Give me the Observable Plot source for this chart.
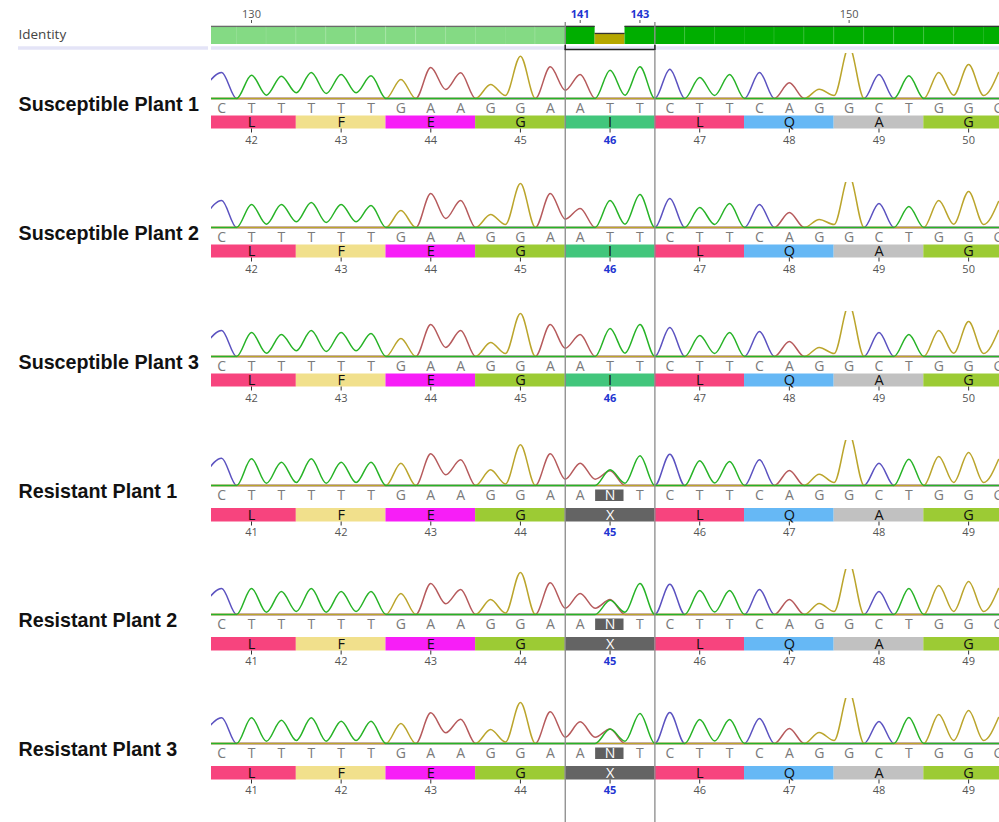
<!DOCTYPE html>
<html><head><meta charset="utf-8">
<script src="https://cdn.jsdelivr.net/npm/d3@7"></script>
<script src="https://cdn.jsdelivr.net/npm/@observablehq/plot@0.6"></script>
<style>
html,body{margin:0;padding:0;background:#fff;overflow:hidden;width:999px;height:822px}
#chart svg{display:block}
</style></head>
<body><div id="chart"></div>
<script>
// ---------------- data ----------------
const positions = [129,130,131,132,133,134,135,136,137,138,139,140,141,142,143,144,145,146,147,148,149,150,151,152,153,154,155];
const sampleNames = ["Susceptible Plant 1","Susceptible Plant 2","Susceptible Plant 3","Resistant Plant 1","Resistant Plant 2","Resistant Plant 3"];
const susceptibleBases = ["C","T","T","T","T","T","G","A","A","G","G","A","A","T","T","C","T","T","C","A","G","G","C","T","G","G","G"];
const resistantBases   = ["C","T","T","T","T","T","G","A","A","G","G","A","A","N","T","C","T","T","C","A","G","G","C","T","G","G","G"];

// peak height of the called base at each position (signal units)
const s1Peaks = [26,23.3,22.3,26,24,22.7,19,31,25.7,14,42.3,31.7,24,28.3,31.7,29.3,21,24,26,15.7,9.3,52,24,22.7,26,34,26];
const s2Peaks = [27,23,23,25,23,22,17,34,27,13,44,34,19,27,33,29,20,24,23,15,8,52,24,21,27,36,26];
const s3Peaks = [26,24,22,26,24,23,18,32,26,14,43,32,22,28,32,29,21,24,25,15,9,52,24,22,26,35,26];
const r1Peaks = [27.3,26.7,23.3,26.7,23.3,23.3,22.3,31.7,25.7,15.7,40.7,31.7,22.3,null,29.7,31.3,24.7,24,25.7,15,11.3,52,22.3,26.3,29,33,26];
const r2Peaks = [26,26,23,26,23,23,21,31,25,15,42,31.7,21,null,31,30.3,24,24,25,15,11,52,23,26,29,33,26];
const r3Peaks = [25.7,25.7,23.3,25.7,22.3,22.3,20,30.7,24.3,14,41,31.7,21.7,null,30,31,24,24,25,15,11,52,22,26,29,33,26];

// double peaks under the ambiguous call
const secondaryPeaks = [
  {sample:"Resistant Plant 1", pos:142, base:"T", h:15.7},
  {sample:"Resistant Plant 1", pos:142, base:"A", h:14.7},
  {sample:"Resistant Plant 2", pos:142, base:"T", h:14.3},
  {sample:"Resistant Plant 2", pos:142, base:"A", h:15},
  {sample:"Resistant Plant 3", pos:142, base:"T", h:14.5},
  {sample:"Resistant Plant 3", pos:142, base:"A", h:14.5}
];
// trough height between two neighbouring peaks of the same dye
const valleysS = [[130.5,3.3],[131.5,5.7],[132.5,5],[133.5,5.7],[136.5,9],[138.5,3],[140.5,8.3],[142.5,3.3],[145.5,3],[149.5,3],[153.5,3.3],[154.5,3]];
const valleysR = [[130.5,2.3],[131.5,3],[132.5,2.3],[133.5,3],[136.5,10.7],[138.5,1.5],[140.5,6.3],[141.5,6.3],[142.5,2.3],[145.5,2.5],[149.5,3],[153.5,3],[154.5,3]];
const leftEdgeC = 14;

const codonStarts = [129,132,135,138,141,144,147,150,153];
const aminoS = ["L","F","E","G","I","L","Q","A","G"];
const aminoR = ["L","F","E","G","X","L","Q","A","G"];
const codonNumS = [42,43,44,45,46,47,48,49,50];
const codonNumR = [41,42,43,44,45,46,47,48,49];

const identityPct = [100,100,100,100,100,100,100,100,100,100,100,100,100,61,100,100,100,100,100,100,100,100,100,100,100,100,100];
const rulerTicks = [130,141,143,150];
const rulerHighlight = [141,143];
const selection = [141,143];

// ---------------- styles / layout ----------------
const dyeColor = {C:"#5b52c0", A:"#b65a5c", G:"#bba52c", T:"#27b327"};
const aaColor = {L:"#f7447e", F:"#f1e08c", E:"#f71ef7", G:"#9ccb34", I:"#42c67c", Q:"#66b8f5", A:"#c1c1c1", X:"#646464"};
const X_DOMAIN = [128.661, 155.033];
const laneS = {letter:-10.5, barTop:-17.5, barBottom:-30.5, num:-41.5};
const laneR = {letter:-10.5, barTop:-23, barBottom:-36.5, num:-47, nTop:-4.5, nBottom:-16};
const LABEL_Y = -6;
const blue = "#1f35d1";

// ---------------- derived tables ----------------
const peaksBySample = {
  "Susceptible Plant 1": s1Peaks, "Susceptible Plant 2": s2Peaks, "Susceptible Plant 3": s3Peaks,
  "Resistant Plant 1": r1Peaks, "Resistant Plant 2": r2Peaks, "Resistant Plant 3": r3Peaks
};
const isRes = s => s.startsWith("Resistant");
const dyes = ["C","A","G","T"];
const tracePts = [];
for (const s of sampleNames) {
  const bases = isRes(s) ? resistantBases : susceptibleBases;
  const peaks = peaksBySample[s];
  const vmap = new Map(isRes(s) ? valleysR : valleysS);
  const sec = secondaryPeaks.filter(d => d.sample === s);
  for (const ch of dyes) {
    const hAt = positions.map((p, i) => {
      if (bases[i] === ch) return peaks[i];
      const m = sec.find(d => d.pos === p && d.base === ch);
      return m ? m.h : 0;
    });
    tracePts.push({sample:s, ch, pos:positions[0]-0.5, h: ch === "C" ? leftEdgeC : 0});
    positions.forEach((p, i) => {
      tracePts.push({sample:s, ch, pos:p, h:hAt[i]});
      if (i < positions.length - 1) {
        const both = hAt[i] > 0 && hAt[i+1] > 0;
        tracePts.push({sample:s, ch, pos:p+0.5, h: both ? (vmap.get(p+0.5) ?? 0) : 0});
      }
    });
  }
}
const letters = [];
for (const s of sampleNames) {
  const bases = isRes(s) ? resistantBases : susceptibleBases;
  positions.forEach((p, i) => letters.push({sample:s, pos:p, base:bases[i], lane: isRes(s) ? laneR : laneS}));
}
const nBoxes = letters.filter(d => d.base === "N");
const codons = [];
for (const s of sampleNames) {
  const r = isRes(s);
  codonStarts.forEach((p, i) => codons.push({
    sample:s, start:p, aa:(r ? aminoR : aminoS)[i], num:(r ? codonNumR : codonNumS)[i],
    lane: r ? laneR : laneS, hi: p === selection[0]
  }));
}
const rows = sampleNames.map(s => ({sample:s}));
const selBounds = [selection[0]-0.5, selection[1]+0.5];
const identRows = positions.map((p, i) => ({pos:p, pct:identityPct[i]}));
const identFill = d => d.pct < 100 ? "#b5a700" : (d.pos < selection[0] ? "#84da84" : "#00ae00");

// ---------------- header (identity track) ----------------
const header = Plot.plot({
  width: 999, height: 53, marginLeft: 211, marginRight: 0, marginTop: 25, marginBottom: 9,
  x: {domain: X_DOMAIN, axis: null},
  y: {domain: [0, 105], axis: null},
  color: {type: "identity"},
  marks: [
    Plot.rect(identRows, {x1: d => d.pos-0.5, x2: d => d.pos+0.5, y1: 0, y2: "pct", fill: identFill, clip: true}),
    Plot.ruleX(identRows, {x: d => d.pos+0.5, y1: 0, y2: "pct", stroke: "white", strokeOpacity: 0.07, clip: true}),
    Plot.ruleY(identRows, {x1: d => d.pos-0.5, x2: d => d.pos+0.5, y: "pct", stroke: d => d.pos < selection[0] ? "#6a6a6a" : "#333", strokeWidth: 1.3, clip: true}),
    Plot.ruleY([0], {dy: 3.5, stroke: "#e4e4f7", strokeWidth: 3.5}),
    Plot.ruleY([0], {dy: 3.5, insetLeft: -193, insetRight: 791, stroke: "#e4e4f7", strokeWidth: 3.5}),
    Plot.ruleX(selBounds, {x: d => d, insetTop: -3, insetBottom: -9, stroke: "#8a8a8a", strokeWidth: 1.3}),
    Plot.ruleY([0], {x1: selBounds[0], x2: selBounds[1], dy: 5, stroke: "#222", strokeWidth: 1.6}),
    Plot.ruleX(selBounds, {x: d => d, y1: 0, y2: 0, insetTop: 1, insetBottom: -6, stroke: "#222", strokeWidth: 1.4}),
    Plot.ruleX(rulerTicks, {x: d => d, insetTop: -5, insetBottom: 21, stroke: "#555"}),
    Plot.text(rulerTicks.filter(t => !rulerHighlight.includes(t)), {x: d => d, text: d => String(d), frameAnchor: "top", lineAnchor: "middle", dy: -11, fill: "#555", fontSize: 11, fontFamily: "Open Sans"}),
    Plot.text(rulerHighlight, {x: d => d, text: d => String(d), frameAnchor: "top", lineAnchor: "middle", dy: -11, fill: blue, fontSize: 11, fontWeight: "bold", fontFamily: "Open Sans"}),
    Plot.text(["Identity"], {text: d => d, frameAnchor: "left", dx: -193, textAnchor: "start", fill: "#444", fontSize: 13.5, fontFamily: "Open Sans"})
  ]
});

// ---------------- chromatogram rows ----------------
const main = Plot.plot({
  width: 999, height: 774, marginLeft: 211, marginRight: 0, marginTop: 0, marginBottom: 0,
  x: {domain: X_DOMAIN, axis: null},
  y: {domain: [-84, 45], axis: null},
  fy: {domain: sampleNames, padding: 0, axis: null},
  color: {type: "identity"},
  marks: [
    Plot.line(tracePts, {x: "pos", y: "h", fy: "sample", z: "ch", stroke: d => dyeColor[d.ch], strokeWidth: 1.5, curve: "monotone-x", clip: true}),
    Plot.rect(nBoxes, {x1: d => d.pos-0.5, x2: d => d.pos+0.5, insetLeft: 0.5, insetRight: 1, y1: d => d.lane.nTop, y2: d => d.lane.nBottom, fy: "sample", fill: "#5f5f5f"}),
    Plot.text(letters, {x: "pos", y: d => d.lane.letter, fy: "sample", text: "base", fill: d => d.base === "N" ? "#ffffff" : "#7a7a7a", fontSize: 14, fontFamily: "Open Sans"}),
    Plot.rect(codons, {x1: d => d.start-0.5, x2: d => d.start+2.5, y1: d => d.lane.barTop, y2: d => d.lane.barBottom, fy: "sample", fill: d => aaColor[d.aa], clip: true}),
    Plot.ruleX(codons, {x: d => d.start+1, y1: d => d.lane.barBottom, y2: d => d.lane.barBottom-4, fy: "sample", stroke: "#333"}),
    Plot.text(codons, {x: d => d.start+1, y: d => (d.lane.barTop+d.lane.barBottom)/2, fy: "sample", text: "aa", fill: d => d.aa === "X" ? "#ffffff" : "#111111", fontSize: 14.5, fontFamily: "Open Sans"}),
    Plot.text(codons.filter(d => !d.hi), {x: d => d.start+1, y: d => d.lane.num, fy: "sample", text: d => String(d.num), fill: "#555", fontSize: 11, fontFamily: "Open Sans"}),
    Plot.text(codons.filter(d => d.hi), {x: d => d.start+1, y: d => d.lane.num, fy: "sample", text: d => String(d.num), fill: blue, fontSize: 11, fontWeight: "bold", fontFamily: "Open Sans"}),
    Plot.ruleX(selBounds, {x: d => d, stroke: "#8a8a8a", strokeWidth: 1.3}),
    Plot.text(rows, {fy: "sample", text: "sample", frameAnchor: "left", y: LABEL_Y, dx: -193, textAnchor: "start", fill: "#111", fontSize: 19.7, fontWeight: "bold", fontFamily: "Liberation Sans, Arial, sans-serif"})
  ]
});

const root = document.getElementById("chart");
root.appendChild(header);
root.appendChild(main);
</script>
</body></html>
